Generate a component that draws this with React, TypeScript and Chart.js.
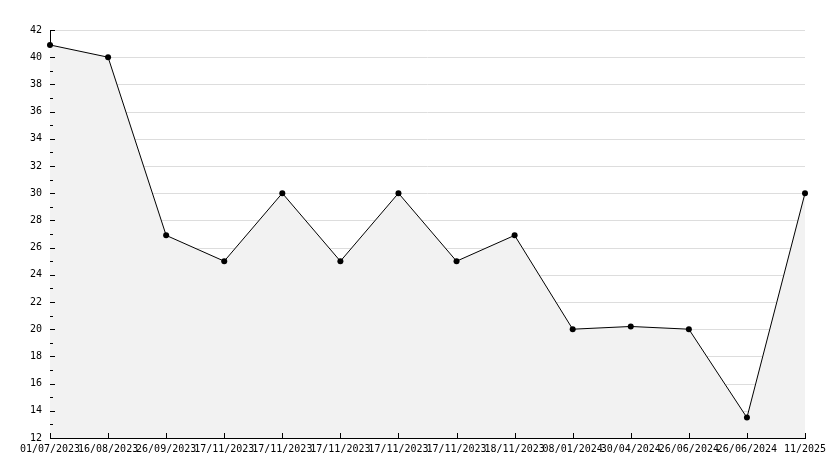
import React, { useEffect, useRef } from "react";
import { Chart, registerables } from "chart.js";

Chart.register(...registerables);

const categories = [
  "01/07/2023", "16/08/2023", "26/09/2023", "17/11/2023", "17/11/2023",
  "17/11/2023", "17/11/2023", "17/11/2023", "18/11/2023", "08/01/2024",
  "30/04/2024", "26/06/2024", "26/06/2024", "11/2025",
];
const values = [40.9, 40, 26.9, 25, 30, 25, 30, 25, 26.9, 20, 20.2, 20, 13.5, 30];
const yMin = 12;
const yMax = 42;
const yStep = 2;

const FONT = "'DejaVu Sans Mono', monospace";

const gridUnder = {
  id: "gridUnder",
  beforeDraw(chart: any) {
    const { ctx, chartArea, scales } = chart;
    const y = scales.y;
    const x = scales.x;
    ctx.save();
    // clip to the area above the data line so the grid does not show through the fill
    ctx.beginPath();
    ctx.moveTo(chartArea.left, chartArea.top - 2);
    ctx.lineTo(chartArea.left, y.getPixelForValue(values[0]));
    for (let i = 0; i < values.length; i++) {
      ctx.lineTo(x.getPixelForValue(i), y.getPixelForValue(values[i]));
    }
    ctx.lineTo(chartArea.right + 1, y.getPixelForValue(values[values.length - 1]));
    ctx.lineTo(chartArea.right + 1, chartArea.top - 2);
    ctx.closePath();
    ctx.clip();
    ctx.strokeStyle = "#dddddd";
    ctx.lineWidth = 1;
    ctx.beginPath();
    for (let v = yMin + yStep; v <= yMax; v += yStep) {
      const py = Math.round(y.getPixelForValue(v)) + 0.5;
      ctx.moveTo(chartArea.left, py);
      ctx.lineTo(chartArea.right, py);
    }
    ctx.stroke();
    ctx.restore();
  },
};

const innerTicks = {
  id: "innerTicks",
  afterDatasetsDraw(chart: any) {
    const { ctx, chartArea, scales } = chart;
    const y = scales.y;
    const x = scales.x;
    ctx.save();
    ctx.strokeStyle = "#000";
    ctx.lineWidth = 1;
    ctx.beginPath();
    for (let v = yMin; v <= yMax; v++) {
      const py = Math.round(y.getPixelForValue(v)) + 0.5;
      const len = v % yStep === 0 ? 5 : 3;
      ctx.moveTo(chartArea.left, py);
      ctx.lineTo(chartArea.left + len, py);
    }
    for (let i = 0; i < categories.length; i++) {
      const px = Math.round(x.getPixelForValue(i)) + 0.5;
      ctx.moveTo(px, chartArea.bottom);
      ctx.lineTo(px, chartArea.bottom - 5);
    }
    ctx.stroke();
    ctx.restore();
  },
};

export default function App() {
  const ref = useRef<HTMLCanvasElement | null>(null);
  useEffect(() => {
    if (!ref.current) return;
    const chart = new Chart(ref.current, {
      type: "line",
      data: {
        labels: categories,
        datasets: [
          {
            data: values,
            borderColor: "#000",
            borderWidth: 1,
            backgroundColor: "#f2f2f2",
            fill: "start",
            tension: 0,
            pointRadius: 3,
            pointBackgroundColor: "#000",
            pointBorderColor: "#000",
            pointBorderWidth: 0,
          },
        ],
      },
      options: {
        animation: false,
        responsive: false,
        maintainAspectRatio: false,
        layout: { padding: { top: 30, right: 29, left: 0, bottom: 0 } },
        plugins: { legend: { display: false }, tooltip: { enabled: false } },
        scales: {
          x: {
            offset: false,
            grid: { display: false, drawTicks: false },
            border: { display: true, color: "#000", width: 1 },
            ticks: {
              autoSkip: false,
              maxRotation: 0,
              minRotation: 0,
              padding: 5,
              color: "#000",
              font: { family: FONT, size: 10 },
            },
            afterFit: (s: any) => {
              s.height = 30;
            },
          },
          y: {
            min: yMin,
            max: yMax,
            grid: { display: false, drawTicks: false, tickLength: 0 },
            border: { display: true, color: "#000", width: 1 },
            ticks: {
              stepSize: yStep,
              padding: 8,
              color: "#000",
              font: { family: FONT, size: 10 },
            },
            afterFit: (s: any) => {
              s.width = 50;
            },
          },
        },
      },
      plugins: [gridUnder, innerTicks],
    });
    return () => chart.destroy();
  }, []);
  return (
    <div style={{ position: "absolute", left: 0, top: 0, width: 834, height: 468, background: "#fff" }}>
      <canvas ref={ref} width={834} height={468} style={{ width: 834, height: 468 }} />
    </div>
  );
}
